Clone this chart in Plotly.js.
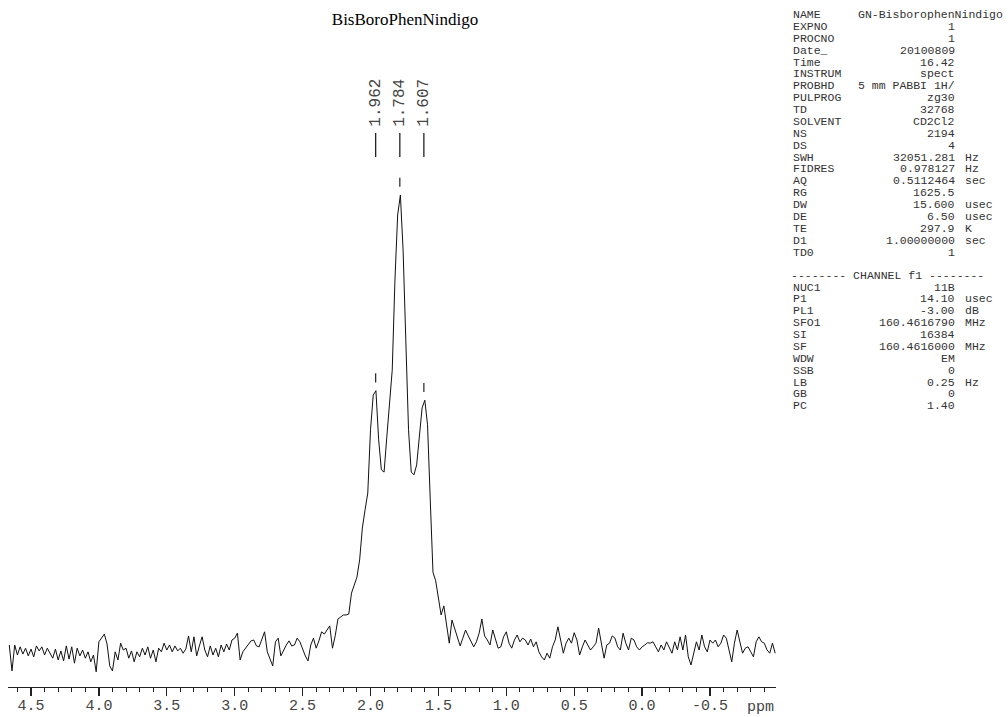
<!DOCTYPE html>
<html>
<head>
<meta charset="utf-8">
<script src="https://cdn.plot.ly/plotly-3.0.1.min.js"></script>
<style>
html,body{margin:0;padding:0;background:#fff;}
#chart{width:1008px;height:717px;}
</style>
</head>
<body>
<div id="chart"></div>
<script>
// ---- Spectrum sampling (ppm) ----
const ppmStart = 4.66;
const ppmStep = -0.02;

// ---- 11B spectrum intensity (arbitrary units, main peak = 100) ----
const intensity = [
  1.1, -4.6, 1.1, -1.1, 0.7, -0.9, 0.4, -1.3, 0.2, -1.5,
  0.9, -0.2, 0.7, -1.1, 0.4, -0.7, -1.8, 0.2, -2.2, -0.2,
  -2.4, 0.9, -2.0, 0.7, -2.9, 0.4, -1.3, 0, -1.8, -0.4,
  -2.6, -1.1, -4.8, 1.8, 2.6, 3.5, 1.3, -3.5, -4.6, -0.4,
  -2.2, 1.5, 0, 0.4, -1.8, -0.2, -2.6, -0.4, -1.5, 0.4,
  -1.1, 0.7, -1.8, 0, -2.6, 0.4, -0.4, 1.5, 0, 1.1,
  -0.4, 0.9, -0.2, 0.4, -0.7, 0.2, 3.1, -0.4, 2.9, -1.3,
  0.9, 2.9, 0, -1.5, 0.9, -1.1, 0.4, -1.5, 1.1, -0.4,
  1.3, 0, 2.2, 2.6, 3.7, -2.2, -0.4, 0.4, 1.1, 2.0,
  2.2, 0.9, 0.7, 2.2, 4.0, -0.4, -2.2, -3.5, 1.8, 2.6,
  -1.3, 0, 1.1, 2.0, 0.9, 1.1, 2.6, 1.8, 0, -1.3,
  -2.4, 1.1, 2.6, 0.4, 2.0, 4.0, 3.5, 4.4, 5.3, 0.4,
  3.1, 6.8, 7.3, 7.7, 7.7, 7.9, 12.5, 14.5, 16.0, 19.8,
  26.8, 30.8, 34.5, 48.4, 56.0, 57.0, 46.2, 39.6, 39.1, 46.8,
  54.9, 61.5, 81.3, 95.6, 100, 87.9, 68.1, 48.4, 39.1, 38.5,
  40.7, 46.2, 53.2, 54.9, 49.5, 33.0, 17.1, 15.2, 11.0, 7.7,
  9.7, 5.5, 1.5, 6.6, 4.8, 3.1, 0.9, 2.6, 4.4, 3.1,
  1.8, 0.7, 1.8, 3.7, 6.8, 3.1, 2.2, 1.1, 4.4, 2.2,
  0.4, 0.7, 2.9, 4.0, 1.5, 0.4, 2.2, 3.3, 1.8, 2.6,
  2.2, 1.1, 2.4, 0.7, 1.8, -0.4, -1.5, -2.2, -0.7, -1.8,
  0.7, 2.2, 5.1, 2.2, -0.7, 1.5, 2.6, 1.5, 3.8, 2.2,
  -1.1, 0.7, 2.2, 1.1, 0, 0.7, 1.5, 4.8, 1.5, -1.8,
  1.1, 1.5, 3.1, 2.6, 0.7, 0, 3.7, 1.5, 0, 2.6,
  2.2, 0.7, 0, 0.7, 1.1, 1.6, 1.5, 1.8, 0.7, -0.4,
  1.1, 0, 1.8, 0.4, -0.7, 1.8, 0, 2.9, 0, 3.3,
  -1.5, -3.3, -0.7, 1.8, 0, 3.3, 0.7, -0.4, 2.2, 1.5,
  2.2, 0.7, 1.5, 3.3, 2.6, 0, -2.6, 1.5, 4.4, 1.8,
  -0.7, 0.4, 0.7, -0.4, -1.5, 1.8, 2.9, 1.8, 1.5, 0,
  -0.7, 1.5, -0.7
];

// ---- Peak picks ----
const peakPpm = [1.962, 1.784, 1.607];
const peakLabels = ['1.962', '1.784', '1.607'];

// ---- Axis ticks ----
const tickVals = [4.5, 4.0, 3.5, 3.0, 2.5, 2.0, 1.5, 1.0, 0.5, 0.0, -0.5];
const tickLabels = ['4.5', '4.0', '3.5', '3.0', '2.5', '2.0', '1.5', '1.0', '0.5', '0.0', '-0.5'];

// ---- Acquisition / processing parameters ----
const paramNames = ['NAME','EXPNO','PROCNO','Date_','Time','INSTRUM','PROBHD','PULPROG','TD','SOLVENT','NS','DS','SWH','FIDRES','AQ','RG','DW','DE','TE','D1','TD0'];
const paramValues = ['GN-BisborophenNindigo','1','1','20100809','16.42','spect','5 mm PABBI 1H/','zg30','32768','CD2Cl2','2194','4','32051.281','0.978127','0.5112464','1625.5','15.600','6.50','297.9','1.00000000','1'];
const paramUnits = ['','','','','','','','','','','','','Hz','Hz','sec','','usec','usec','K','sec',''];
const channelHeader = '-------- CHANNEL f1 --------';
const channelNames = ['NUC1','P1','PL1','SFO1','SI','SF','WDW','SSB','LB','GB','PC'];
const channelValues = ['11B','14.10','-3.00','160.4616790','16384','160.4616000','EM','0','0.25','0','1.40'];
const channelUnits = ['','usec','dB','MHz','','MHz','','','Hz','',''];

// ---- Layout geometry (pixels) ----
const W = 1008, H = 717;
const plotL = 8, plotR = 776, plotT = 60, plotB = 687;
const px2paperX = p => (p - plotL) / (plotR - plotL);
const px2paperY = p => (plotB - p) / (plotB - plotT);

const mono = 'Liberation Mono, Courier New, monospace';
const annotations = [];
const shapes = [];

// parameter block
const parFont = {family: mono, size: 11.5, color: '#333'};
function addText(text, pxX, pxY, anchor) {
  annotations.push({
    xref: 'paper', yref: 'paper', x: px2paperX(pxX), y: px2paperY(pxY),
    text: text, showarrow: false, xanchor: anchor, yanchor: 'middle',
    font: parFont, borderpad: 0
  });
}
const nameX = 792, valRightX = 956, unitX = 964, lineStep = 11.88;
paramNames.forEach((n, i) => {
  const y = 14.5 + i * lineStep;
  addText(n, nameX, y, 'left');
  if (i === 0) addText(paramValues[i], 857, y, 'left');
  else addText(paramValues[i], valRightX, y, 'right');
  if (paramUnits[i]) addText(paramUnits[i], unitX, y, 'left');
});
addText(channelHeader, 790, 275, 'left');
channelNames.forEach((n, i) => {
  const y = 287 + i * lineStep;
  addText(n, nameX, y, 'left');
  addText(channelValues[i], valRightX, y, 'right');
  if (channelUnits[i]) addText(channelUnits[i], unitX, y, 'left');
});

// peak picks: labels, label lines, tick marks above each peak (heights taken from the data)
peakPpm.forEach((p, i) => {
  const idx = Math.round((ppmStart - p) / -ppmStep);
  let h = -Infinity;
  for (let j = idx - 1; j <= idx + 1; j++) if (j >= 0 && j < intensity.length) h = Math.max(h, intensity[j]);
  shapes.push({type: 'line', xref: 'x', yref: 'y', x0: p, x1: p, y0: h + 1.8, y1: h + 3.8,
               line: {color: '#222', width: 1.2}});
  shapes.push({type: 'line', xref: 'x', yref: 'paper', x0: p, x1: p,
               y0: px2paperY(157), y1: px2paperY(133), line: {color: '#222', width: 1.3}});
  annotations.push({xref: 'x', yref: 'paper', x: p, y: px2paperY(103), text: peakLabels[i],
                    textangle: -90, showarrow: false, xanchor: 'center', yanchor: 'middle',
                    font: {family: mono, size: 16, color: '#444'}, borderpad: 0});
});

// ppm unit label
annotations.push({xref: 'paper', yref: 'paper', x: px2paperX(760), y: px2paperY(707), text: 'ppm',
                  showarrow: false, xanchor: 'center', yanchor: 'middle',
                  font: {family: mono, size: 15, color: '#444'}, borderpad: 0});

const trace = {
  type: 'scatter', mode: 'lines',
  x0: ppmStart, dx: ppmStep, y: intensity,
  line: {color: '#111', width: 1},
  hoverinfo: 'skip'
};

// y range chosen so baseline 0 sits at y=650px and main peak (100) at y=195px
const unitPx = 4.55;
const yMin = -(plotB - 650) / unitPx;
const yMax = (650 - plotT) / unitPx;
// x range: 4.5 ppm at px 31, 0.5 ppm per 67.9 px
const pxPerPpm = 135.8;
const xLeft = 4.5 + (31 - plotL) / pxPerPpm;
const xRight = 4.5 - (plotR - 31) / pxPerPpm;

const layout = {
  width: W, height: H,
  margin: {l: plotL, r: W - plotR, t: plotT, b: H - plotB, pad: 0},
  paper_bgcolor: '#fff', plot_bgcolor: '#fff',
  showlegend: false,
  title: {text: 'BisBoroPhenNindigo', font: {family: 'Liberation Serif, Times New Roman, serif', size: 17, color: '#000'},
          xref: 'paper', x: px2paperX(405), xanchor: 'center', yref: 'container', y: 1 - 19 / H, yanchor: 'middle'},
  xaxis: {
    range: [xLeft, xRight], showgrid: false, zeroline: false,
    showline: true, linecolor: '#222', linewidth: 1,
    ticks: 'outside', ticklen: 8, tickwidth: 1.2, tickcolor: '#222',
    tickmode: 'array', tickvals: tickVals, ticktext: tickLabels,
    tickfont: {family: mono, size: 15, color: '#444'},
    ticklabelstandoff: -4,
    minor: {tickmode: 'linear', tick0: 0, dtick: 0.1, ticks: 'outside', ticklen: 4, tickwidth: 1, tickcolor: '#222', showgrid: false},
    fixedrange: true
  },
  yaxis: {range: [yMin, yMax], visible: false, showgrid: false, zeroline: false, fixedrange: true},
  annotations: annotations,
  shapes: shapes
};

Plotly.newPlot('chart', [trace], layout, {staticPlot: true, displayModeBar: false});
</script>
</body>
</html>
